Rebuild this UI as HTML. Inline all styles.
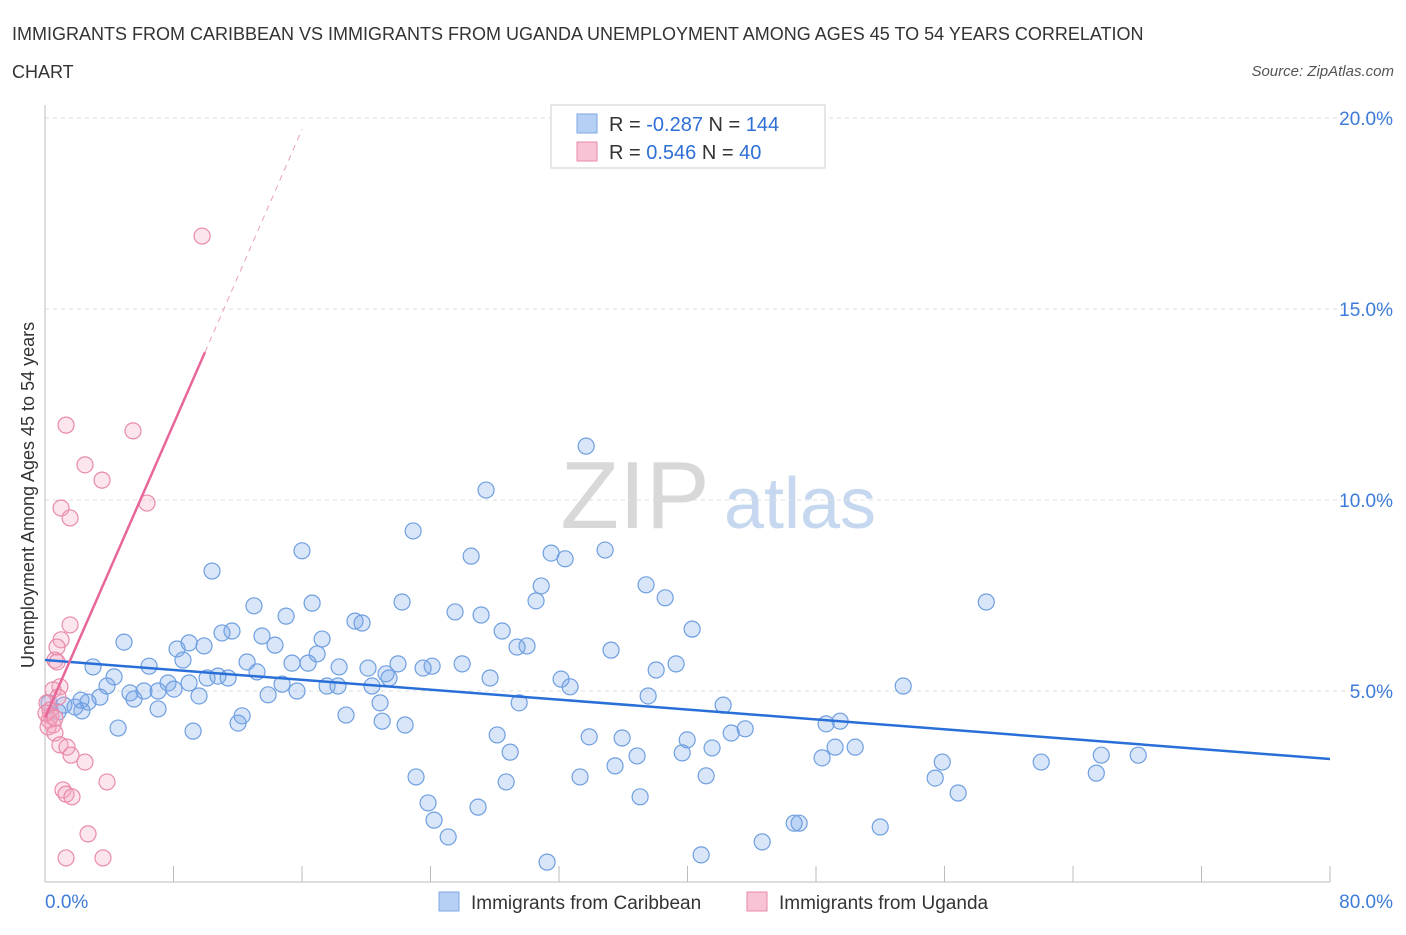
<!DOCTYPE html>
<html><head><meta charset="utf-8"><style>
body{margin:0;background:#fff;font-family:"Liberation Sans",sans-serif}
svg text{font-family:"Liberation Sans",sans-serif}
</style></head><body>
<svg id="chart" width="1406" height="930" xmlns="http://www.w3.org/2000/svg">
<text x="12" y="40" font-size="18" fill="#333">IMMIGRANTS FROM CARIBBEAN VS IMMIGRANTS FROM UGANDA UNEMPLOYMENT AMONG AGES 45 TO 54 YEARS CORRELATION</text>
<text x="12" y="78" font-size="18" fill="#333">CHART</text>
<text x="1394" y="76" font-size="15" fill="#555" font-style="italic" text-anchor="end">Source: ZipAtlas.com</text>
<g>
<text x="635" y="528" font-size="96" fill="#d8d8d8" font-family="Liberation Serif,serif" text-anchor="middle">ZIP</text>
<text x="800" y="528" font-size="72" fill="#c5d8f0" text-anchor="middle">atlas</text>
</g>
<g id="grid"></g>
<g id="axes"></g>
<g id="points"></g>
<g id="trends"></g>
<text transform="translate(34,495) rotate(-90)" font-size="18" fill="#333" text-anchor="middle">Unemployment Among Ages 45 to 54 years</text>
<g>
<rect x="551" y="105" width="274" height="63" fill="#fff" stroke="#ccc"/>
<rect x="577" y="114" width="20" height="19" fill="#b5cff5" stroke="#7ea7e4"/>
<text x="609" y="131" font-size="20" fill="#333">R = <tspan fill="#2f6fd6">-0.287</tspan>   N = <tspan fill="#2f6fd6">144</tspan></text>
<rect x="577" y="142" width="20" height="19" fill="#f8c3d4" stroke="#e88aa8"/>
<text x="609" y="159" font-size="20" fill="#333">R =  <tspan fill="#2f6fd6">0.546</tspan>   N =  <tspan fill="#2f6fd6">40</tspan></text>
</g>
<g>
<rect x="439" y="892" width="20" height="19" fill="#b5cff5" stroke="#7ea7e4"/>
<text x="471" y="909" font-size="19" fill="#333">Immigrants from Caribbean</text>
<rect x="747" y="892" width="20" height="19" fill="#f8c3d4" stroke="#e88aa8"/>
<text x="779" y="909" font-size="19" fill="#333">Immigrants from Uganda</text>
</g>
</svg>
<script>
const yTicks=[5,10,15,20];
const xTickCount=11;
const xMax=80;
const blueX=[33.69,27.46,22.92,16.00,26.53,31.51,32.38,34.87,10.40,30.89,37.42,38.61,30.57,22.23,16.63,13.01,25.53,27.15,15.01,19.30,19.74,40.29,28.46,11.64,11.02,13.51,17.25,4.92,8.97,8.22,9.90,14.32,30.01,29.39,35.24,16.94,8.59,12.58,15.38,6.48,2.99,16.38,39.29,38.05,25.97,24.10,21.98,23.54,18.31,20.11,21.23,21.42,13.20,10.77,10.09,11.40,14.76,27.71,32.13,4.30,7.66,3.86,17.56,18.24,20.36,53.43,32.69,8.97,5.29,6.16,7.04,8.03,5.54,13.89,15.69,37.55,9.59,3.42,2.24,1.18,2.68,1.87,2.30,0.25,0.81,29.52,20.86,42.22,7.04,18.74,12.27,12.02,48.63,49.50,22.42,20.99,4.55,9.22,43.59,42.72,33.88,35.93,28.15,39.98,49.19,50.44,41.53,28.96,36.86,39.67,48.38,65.76,68.06,55.86,62.02,35.49,65.45,23.10,33.31,41.16,55.42,28.71,56.85,37.05,23.85,26.96,24.22,46.95,46.64,52.00,25.10,44.65,40.85,31.26,58.60];
const blueY=[11.41,10.26,9.19,8.67,8.53,8.61,8.46,8.69,8.14,7.75,7.78,7.44,7.36,7.33,7.30,7.23,7.07,6.99,6.96,6.83,6.78,6.62,6.57,6.57,6.52,6.44,6.36,6.28,6.26,6.10,6.18,6.20,6.18,6.15,6.07,5.97,5.81,5.76,5.73,5.65,5.63,5.73,5.71,5.55,5.71,5.65,5.71,5.60,5.63,5.60,5.45,5.34,5.50,5.39,5.34,5.34,5.18,5.34,5.31,5.37,5.21,5.13,5.13,5.13,5.13,5.13,5.11,5.21,4.95,5.00,5.00,5.05,4.79,4.90,5.00,4.87,4.87,4.84,4.76,4.63,4.71,4.58,4.48,4.69,4.45,4.69,4.69,4.63,4.53,4.37,4.35,4.16,4.14,4.21,4.11,4.21,4.03,3.95,4.01,3.90,3.80,3.77,3.85,3.72,3.53,3.53,3.51,3.40,3.30,3.38,3.25,3.32,3.32,3.14,3.14,3.04,2.85,2.75,2.75,2.78,2.72,2.62,2.33,2.23,2.07,1.96,1.62,1.54,1.54,1.44,1.18,1.05,0.71,0.52,7.33];
const pinkX=[9.78,1.31,5.48,2.49,3.55,6.35,1.00,1.56,1.56,1.00,0.75,0.62,0.75,0.93,0.50,0.81,0.12,0.31,0.37,0.25,0.50,0.19,0.62,0.93,1.37,1.62,2.49,3.86,1.12,1.31,1.68,2.68,1.31,3.61,0.06,0.62];
const pinkY=[16.91,11.96,11.81,10.92,10.52,9.92,9.79,9.53,6.73,6.34,6.15,5.81,5.76,5.11,5.03,4.84,4.69,4.50,4.35,4.24,4.11,4.06,3.90,3.59,3.53,3.32,3.14,2.62,2.41,2.30,2.23,1.26,0.63,0.63,4.42,4.29];
const blueTrend=[[0,5.81],[80,3.22]];
const pinkTrendSolid=[[0,4.3],[9.96,13.87]];
const pinkTrendDash=[[9.96,13.87],[16.0,19.7]];

const NS='http://www.w3.org/2000/svg';
const X0=45,X1=1330,Y0=882,PPY=38.2;
function sx(v){return X0+v/xMax*(X1-X0);}
function sy(v){return Y0-v*PPY;}
function mk(tag,attrs,parent){const e=document.createElementNS(NS,tag);for(const k in attrs)e.setAttribute(k,attrs[k]);document.getElementById(parent).appendChild(e);return e;}
yTicks.forEach(t=>{
  const g=mk('line',{x1:X0,x2:1390,y1:sy(t),y2:sy(t),stroke:'#ddd','stroke-dasharray':'4,4'},'grid');
  
  
  const l=mk('text',{x:1393,y:sy(t)+7,'font-size':19,fill:'#3d7bd8','text-anchor':'end'},'grid');
  l.textContent=t.toFixed(1)+'%';
  
  
});
const ax=mk('line',{x1:X0,x2:X0,y1:105,y2:Y0,stroke:'#bbb'},'axes');


const bx=mk('line',{x1:X0,x2:X1,y1:Y0,y2:Y0,stroke:'#bbb'},'axes');


for(let i=0;i<xTickCount;i++){
  const v=i*xMax/(xTickCount-1);
  const t=mk('line',{x1:sx(v),x2:sx(v),y1:866,y2:Y0,stroke:'#bbb'},'axes');
  
  
}
const xl0=mk('text',{x:45,y:908,'font-size':19,fill:'#3d7bd8'},'axes');xl0.textContent='0.0%';


const xl1=mk('text',{x:1393,y:908,'font-size':19,fill:'#3d7bd8','text-anchor':'end'},'axes');xl1.textContent=xMax.toFixed(1)+'%';


blueX.forEach((x,i)=>{
  const c=mk('circle',{cx:sx(x),cy:sy(blueY[i]),r:8,fill:'rgba(120,165,235,0.28)',stroke:'#6f9fe0','stroke-width':1.2},'points');
  
  
});
pinkX.forEach((x,i)=>{
  const c=mk('circle',{cx:sx(x),cy:sy(pinkY[i]),r:8,fill:'rgba(245,170,195,0.3)',stroke:'#e88aa8','stroke-width':1.2},'points');
  
  
});
const bt=mk('line',{x1:sx(blueTrend[0][0]),y1:sy(blueTrend[0][1]),x2:sx(blueTrend[1][0]),y2:sy(blueTrend[1][1]),stroke:'#2a6fd8','stroke-width':2.5},'trends');


const pt=mk('line',{x1:sx(pinkTrendSolid[0][0]),y1:sy(pinkTrendSolid[0][1]),x2:sx(pinkTrendSolid[1][0]),y2:sy(pinkTrendSolid[1][1]),stroke:'#e8679a','stroke-width':2.5},'trends');


const pd=mk('line',{x1:sx(pinkTrendDash[0][0]),y1:sy(pinkTrendDash[0][1]),x2:sx(pinkTrendDash[1][0]),y2:sy(pinkTrendDash[1][1]),stroke:'#eca0bb','stroke-width':1,'stroke-dasharray':'6,5'},'trends');


</script>
</body></html>
